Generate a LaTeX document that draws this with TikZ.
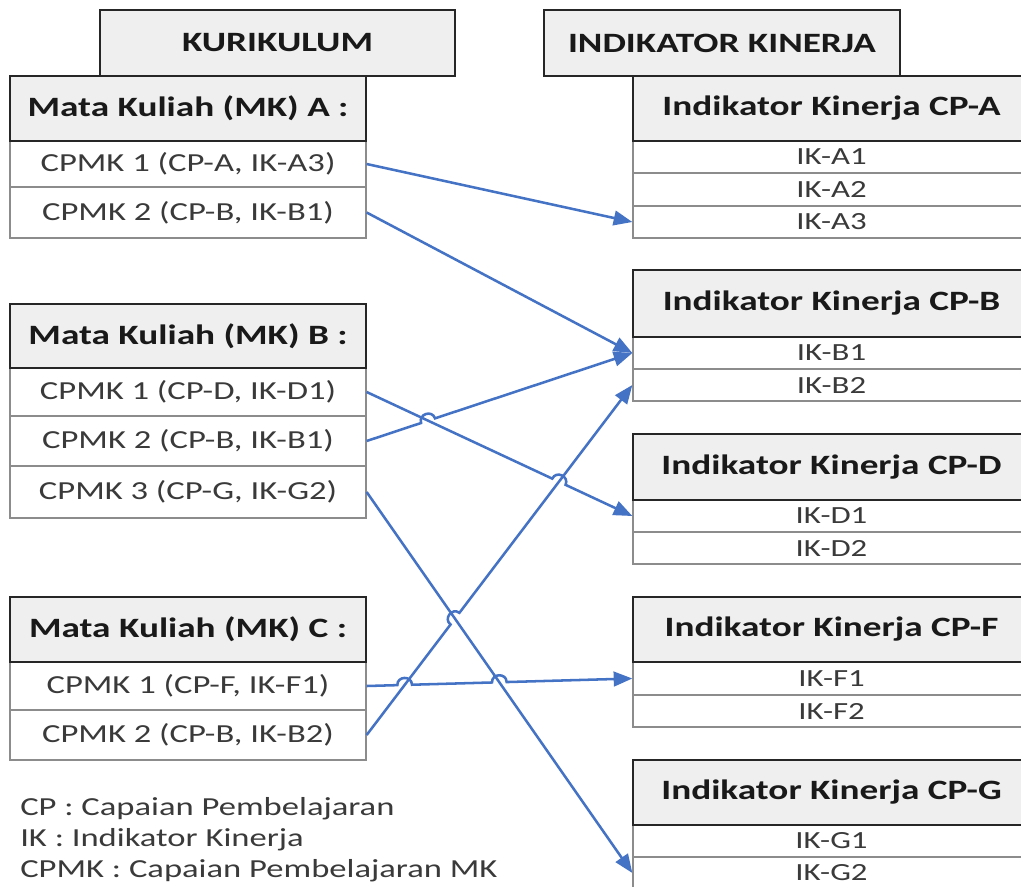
\documentclass[tikz,border=0pt]{standalone}
\usepackage{fontspec}
\setmainfont{Carlito}[FakeStretch=1.33]
\usetikzlibrary{calc,intersections,arrows.meta}

\definecolor{linkblue}{HTML}{4472C4}
\definecolor{headfill}{HTML}{EFEFEF}
\definecolor{headline}{HTML}{262626}
\definecolor{rowline}{HTML}{8C8C8C}
\definecolor{rowtext}{HTML}{3A3A3A}

\tikzset{
  headbox/.style={draw=headline, fill=headfill, line width=1.3pt, inner sep=0pt,
    font=\bfseries\fontsize{21pt}{24pt}\selectfont, text=black!90},
  leftrow/.style={draw=rowline, fill=white, line width=1pt, inner sep=0pt,
    minimum width=267pt, font=\fontsize{19.5pt}{23pt}\selectfont, text=rowtext},
  rightrow/.style={draw=rowline, fill=white, line width=1pt, inner sep=0pt,
    minimum width=297.75pt, minimum height=24pt, font=\fontsize{18.5pt}{22pt}\selectfont, text=rowtext},
  lefthead/.style={headbox, minimum width=267pt},
  righthead/.style={headbox, minimum width=297.75pt},
  legend/.style={anchor=west, inner sep=0pt, font=\fontsize{19.5pt}{23pt}\selectfont, text=rowtext},
  link/.style={draw=linkblue, line width=1.9pt, -{Triangle[length=14pt,width=11pt]}},
  % small arc where a connector jumps over another one
  linehop/.style n args={3}{insert path={
    -- ($(#1)!5.5pt!(#2)$)
    .. controls ($(#1)!5.5pt!(#2)!7pt!90:(#1)$) and ($(#1)!5.5pt!(#3)!7pt!-90:(#1)$)
    .. ($(#1)!5.5pt!(#3)$)}}
}

\begin{document}
\begin{tikzpicture}[x=0.75pt,y=-0.75pt]
\useasboundingbox (0,0) rectangle (1021,886);
\clip (0,0) rectangle (1021,886);

% column titles
\node[headbox, minimum width=266.25pt, minimum height=49.5pt] (kur) at (277.5,43) {KURIKULUM};
\node[headbox, minimum width=267pt, minimum height=49.5pt] (ind) at (722,43) {INDIKATOR KINERJA};

% ---- left column: courses ----
\node[leftrow, minimum height=34.5pt] (ma1) at (188,164) {CPMK 1 (CP-A, IK-A3)};
\node[leftrow, minimum height=38.25pt] (ma2) at (188,212.5) {CPMK 2 (CP-B, IK-B1)};
\node[lefthead, minimum height=48.75pt] (ma) at (188,108.5) {Mata Kuliah (MK) A :};

\node[leftrow, minimum height=36pt] (mb1) at (188,392) {CPMK 1 (CP-D, IK-D1)};
\node[leftrow, minimum height=37.5pt] (mb2) at (188,441) {CPMK 2 (CP-B, IK-B1)};
\node[leftrow, minimum height=39pt] (mb3) at (188,492) {CPMK 3 (CP-G, IK-G2)};
\node[lefthead, minimum height=48pt] (mb) at (188,336) {Mata Kuliah (MK) B :};

\node[leftrow, minimum height=36pt] (mc1) at (188,686) {CPMK 1 (CP-F, IK-F1)};
\node[leftrow, minimum height=37.5pt] (mc2) at (188,735) {CPMK 2 (CP-B, IK-B2)};
\node[lefthead, minimum height=48.75pt] (mc) at (188,629.5) {Mata Kuliah (MK) C :};

% ---- right column: performance indicators ----
\node[rightrow] (ra1) at (831.5,157) {IK-A1};
\node[rightrow] (ra2) at (831.5,189.5) {IK-A2};
\node[rightrow] (ra3) at (831.5,222) {IK-A3};
\node[righthead, minimum height=48.75pt] (ra) at (831.5,108.5) {Indikator Kinerja CP-A};

\node[rightrow] (rb1) at (831.5,353) {IK-B1};
\node[rightrow] (rb2) at (831.5,385) {IK-B2};
\node[righthead, minimum height=50.25pt] (rb) at (831.5,303.5) {Indikator Kinerja CP-B};

\node[rightrow] (rd1) at (831.5,516) {IK-D1};
\node[rightrow] (rd2) at (831.5,548) {IK-D2};
\node[righthead, minimum height=49.5pt] (rd) at (831.5,467) {Indikator Kinerja CP-D};

\node[rightrow] (rf1) at (831.5,678.5) {IK-F1};
\node[rightrow] (rf2) at (831.5,711) {IK-F2};
\node[righthead, minimum height=48.75pt] (rf) at (831.5,629.5) {Indikator Kinerja CP-F};

\node[rightrow] (rg1) at (831.5,841) {IK-G1};
\node[rightrow] (rg2) at (831.5,873) {IK-G2};
\node[righthead, minimum height=48.75pt] (rg) at (831.5,792.5) {Indikator Kinerja CP-G};

% ---- legend ----
\node[legend] (lg1) at (20,809) {CP : Capaian Pembelajaran};
\node[legend] (lg2) at (20,840) {IK : Indikator Kinerja};
\node[legend] (lg3) at (20,871) {CPMK : Capaian Pembelajaran MK};

% ---- crossing points of the connectors ----
\path[name path=p3] (mb1.east) -- (rd1.west);
\path[name path=p4] (mb2.east) -- (rb1.west);
\path[name path=p5] (mb3.east) -- (rg2.west);
\path[name path=p6] (mc1.east) -- (rf1.west);
\path[name path=p7] (mc2.east) -- (rb2.west);
\path[name intersections={of=p3 and p4, by=x34}];
\path[name intersections={of=p3 and p7, by=x37}];
\path[name intersections={of=p5 and p7, by=x57}];
\path[name intersections={of=p6 and p7, by=x67}];
\path[name intersections={of=p5 and p6, by=x56}];

% ---- connectors ----
\draw[link] (ma1.east) -- (ra3.west);
\draw[link] (ma2.east) -- (rb1.west);
\draw[link] (mb1.east) [linehop={x37}{mb1.east}{rd1.west}] -- (rd1.west);
\draw[link] (mb2.east) [linehop={x34}{mb2.east}{rb1.west}] -- (rb1.west);
\draw[link] (mb3.east) -- (rg2.west);
\draw[link] (mc1.east) [linehop={x67}{mc1.east}{rf1.west}] [linehop={x56}{mc1.east}{rf1.west}] -- (rf1.west);
\draw[link] (mc2.east) [linehop={x57}{mc2.east}{rb2.west}] -- (rb2.west);
\end{tikzpicture}
\end{document}
